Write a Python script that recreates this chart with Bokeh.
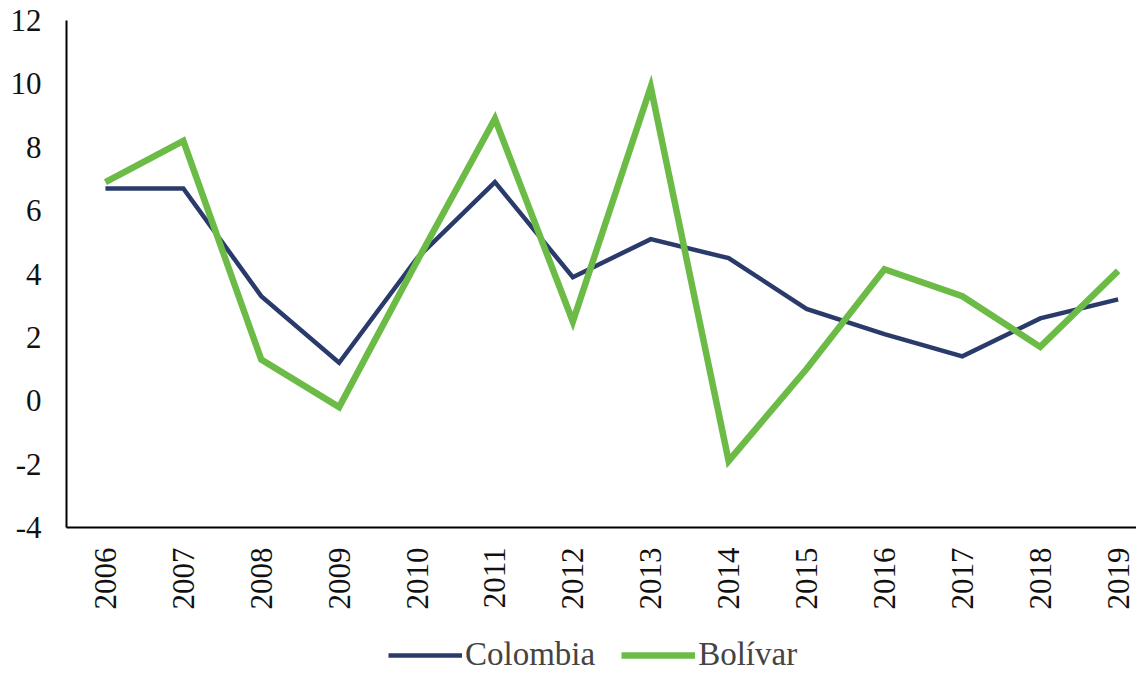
import math
from bokeh.plotting import figure
from bokeh.models import Range1d, FixedTicker, Legend, LegendItem
from bokeh.layouts import column
from bokeh.embed import file_html
from bokeh.resources import INLINE

years = [2006, 2007, 2008, 2009, 2010, 2011, 2012, 2013, 2014, 2015, 2016, 2017, 2018, 2019]
colombia = [6.7, 6.7, 3.3, 1.2, 4.5, 6.9, 3.9, 5.1, 4.5, 2.9, 2.1, 1.4, 2.6, 3.2]
bolivar = [6.9, 8.2, 1.3, -0.2, 4.4, 8.9, 2.5, 9.9, -1.9, 1.0, 4.15, 3.3, 1.7, 4.1]
y_ticks = [-4, -2, 0, 2, 4, 6, 8, 10, 12]

FONT = "Liberation Serif"
NAVY = "#2a3b6b"
GREEN = "#6cbb47"

p = figure(width=1136, height=612, output_backend="svg", toolbar_location=None,
           x_range=Range1d(2005.5, 2019.236), y_range=Range1d(-4, 12),
           min_border_left=66, min_border_top=20, min_border_right=0, min_border_bottom=84)
p.outline_line_color = None
p.xgrid.visible = False
p.ygrid.visible = False

for ax in (p.xaxis[0], p.yaxis[0]):
    ax.axis_line_color = "black"
    ax.axis_line_width = 2
    ax.major_tick_line_color = None
    ax.minor_tick_line_color = None
    ax.major_label_text_font = FONT
    ax.major_label_text_font_size = "31px"
    ax.major_label_text_color = "#111111"

p.xaxis[0].ticker = FixedTicker(ticks=years)
p.xaxis[0].major_label_orientation = math.pi / 2
p.xaxis[0].major_label_standoff = 14
p.yaxis[0].ticker = FixedTicker(ticks=y_ticks)
p.yaxis[0].major_label_overrides = {t: str(t) for t in y_ticks}
p.yaxis[0].major_label_standoff = 19

p.line(years, colombia, line_color=NAVY, line_width=4.5, line_join="miter")
p.line(years, bolivar, line_color=GREEN, line_width=6.5, line_join="miter")

# legend strip below the chart (same series, drawn outside its visible range)
lg = figure(width=1136, height=61, output_backend="svg", toolbar_location=None,
            x_range=Range1d(0, 1), y_range=Range1d(0, 1),
            x_axis_location=None, y_axis_location=None,
            min_border_left=0, min_border_right=0, min_border_top=0, min_border_bottom=0)
lg.outline_line_color = None
lg.xgrid.visible = False
lg.ygrid.visible = False
l1 = lg.line(years, colombia, line_color=NAVY, line_width=4.5)
l2 = lg.line(years, bolivar, line_color=GREEN, line_width=6.5)

legend = Legend(items=[LegendItem(label="Colombia", renderers=[l1]),
                       LegendItem(label="Bolívar", renderers=[l2])],
                orientation="horizontal", location=(322, 0),
                border_line_color=None, background_fill_alpha=0,
                label_text_font=FONT, label_text_font_size="33px",
                glyph_width=74, glyph_height=30, padding=0, spacing=26,
                label_standoff=3)
lg.add_layout(legend, "center")

layout = column(p, lg, spacing=0)
open("out.html", "w").write(file_html(layout, INLINE))
